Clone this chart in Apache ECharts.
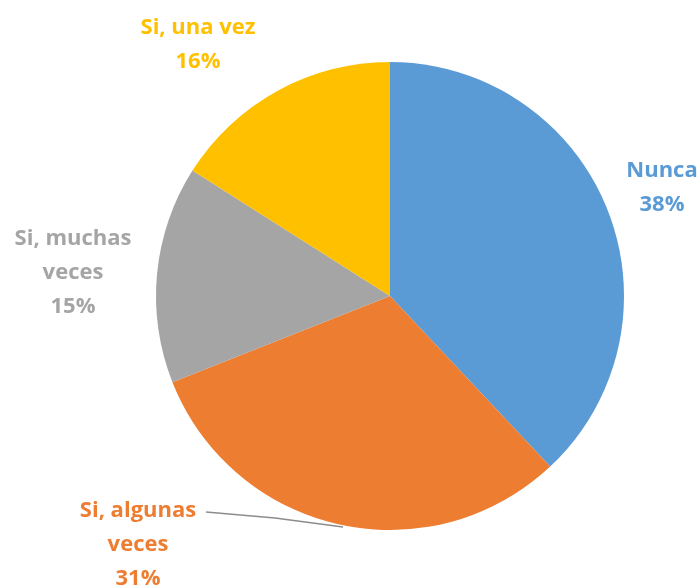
<!DOCTYPE html>
<html>
<head>
<meta charset="utf-8">
<script src="https://cdn.jsdelivr.net/npm/echarts@6/dist/echarts.min.js"></script>
<style>
  html, body { margin: 0; padding: 0; background: #fff; }
  #pieChart { width: 700px; height: 588px; }
</style>
</head>
<body>
<div id="pieChart"></div>
<script>
  var categories = ['Nunca', 'Si, algunas\nveces', 'Si, muchas\nveces', 'Si, una vez'];
  var percents = [38, 31, 15, 16];
  var colors = ['#5B9BD5', '#ED7D31', '#A5A5A5', '#FFC000'];

  // label anchor points (centre of each text block)
  var labelPos = [[662, 188], [138, 545], [73, 273], [198, 45]];

  var pieData = [];
  for (var i = 0; i < categories.length; i++) {
    pieData.push({
      name: categories[i],
      value: percents[i],
      itemStyle: { color: colors[i] },
      label: { color: colors[i] },
      labelLine: { show: i === 1 }
    });
  }

  var option = {
    backgroundColor: '#ffffff',
    animation: false,
    series: [{
      type: 'pie',
      center: [390, 296],
      radius: 234,
      startAngle: 90,
      clockwise: true,
      data: pieData,
      label: {
        show: true,
        position: 'outside',
        formatter: '{b}\n{c}%',
        fontFamily: 'Open Sans',
        fontWeight: 'bold',
        fontSize: 22,
        lineHeight: 34,
        align: 'center',
        overflow: 'none'
      },
      labelLine: {
        lineStyle: { color: '#8c8c8c', width: 1.5 }
      },
      labelLayout: function (params) {
        var p = labelPos[params.dataIndex];
        var res = { x: p[0], y: p[1], align: 'center', verticalAlign: 'middle' };
        if (params.dataIndex === 1) {
          res.labelLinePoints = [[343, 527], [275, 518], [206, 512]];
        }
        return res;
      }
    }]
  };

  var chart = echarts.init(document.getElementById('pieChart'));
  chart.setOption(option);
</script>
</body>
</html>
